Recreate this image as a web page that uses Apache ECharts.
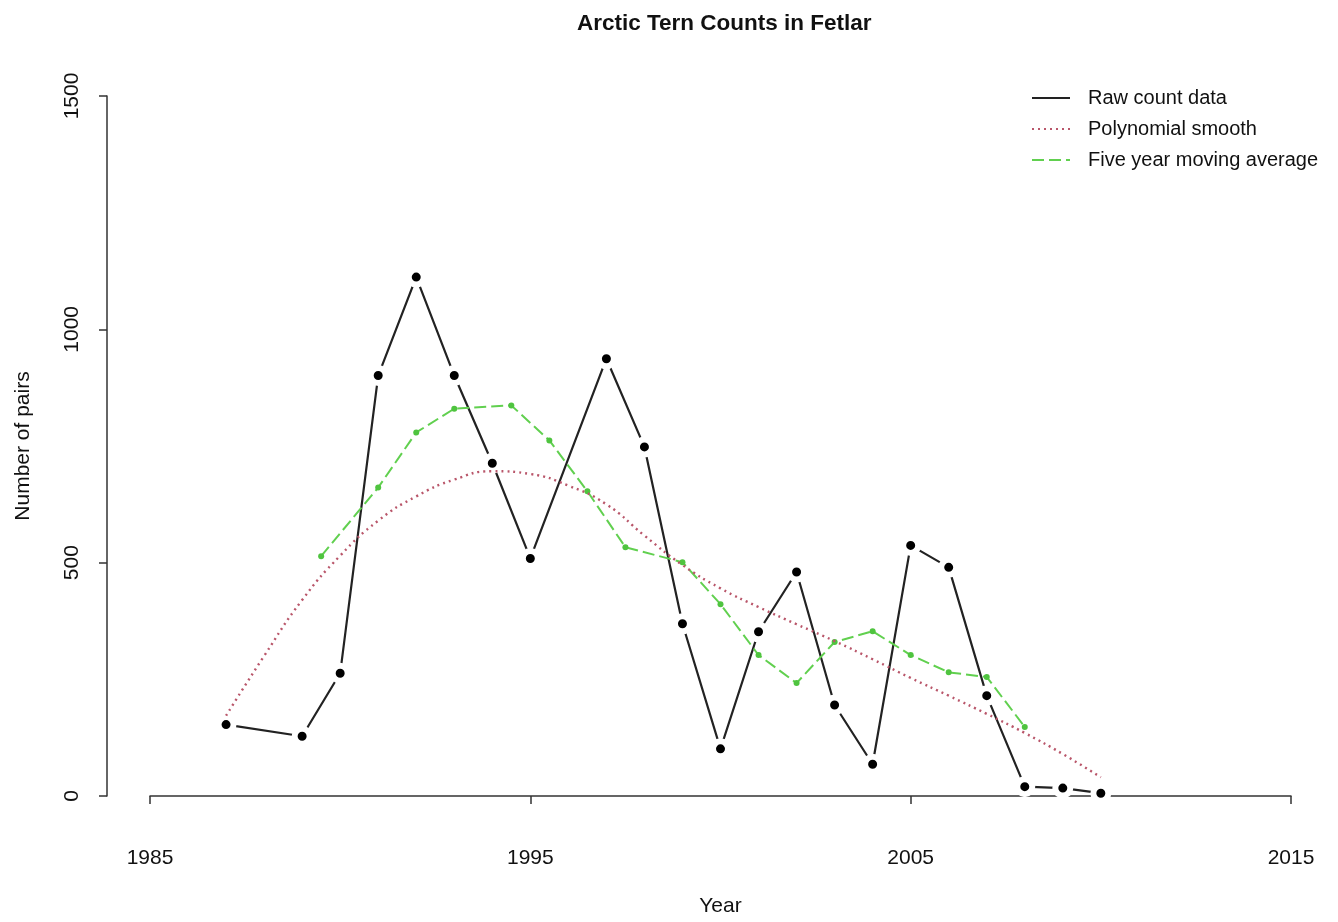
<!DOCTYPE html>
<html>
<head>
<meta charset="utf-8">
<script src="https://cdn.jsdelivr.net/npm/echarts@6/dist/echarts.min.js"></script>
<style>html,body{margin:0;padding:0;background:#fff}#chart{width:1338px;height:922px}</style>
</head>
<body>
<div id="chart"></div>
<script>
// Raw counts
const rawYears  = [1987, 1989, 1990, 1991, 1992, 1993, 1994, 1995, 1997, 1998, 1999, 2000, 2001, 2002, 2003, 2004, 2005, 2006, 2007, 2008, 2009, 2010];
const rawValues = [153, 128, 263, 901, 1112, 901, 713, 509, 937, 748, 369, 101, 352, 480, 195, 68, 537, 490, 215, 20, 17, 6];
// Polynomial smooth
const polyYears  = [1987, 1988, 1989, 1990, 1991, 1992, 1993, 1994, 1995, 1996, 1997, 1998, 1999, 2000, 2001, 2002, 2003, 2004, 2005, 2006, 2007, 2008, 2009, 2010];
const polyValues = [172, 300, 420, 515, 590, 642, 678, 696, 690, 665, 625, 558, 495, 445, 405, 368, 332, 293, 253, 215, 176, 135, 90, 40];
// Five year moving average
const maYears  = [1989.5, 1991, 1992, 1993, 1994.5, 1995.5, 1996.5, 1997.5, 1999, 2000, 2001, 2002, 2003, 2004, 2005, 2006, 2007, 2008];
const maValues = [514, 661, 779, 830, 837, 762, 653, 533, 501, 411, 302, 242, 330, 353, 302, 265, 255, 148];
// Axis ticks
const xTicks = [1985, 1995, 2005, 2015];
const yTicks = [0, 500, 1000, 1500];

const seriesNames = ['Raw count data', 'Polynomial smooth', 'Five year moving average'];
const zip = (xs, ys) => xs.map((x, i) => [x, ys[i]]);

const FONT = "'Liberation Sans', Arial, sans-serif";
const chart = echarts.init(document.getElementById('chart'), null, {renderer: 'canvas'});
chart.setOption({
  animation: false,
  backgroundColor: '#fff',
  textStyle: {fontFamily: FONT},
  title: {
    text: 'Arctic Tern Counts in Fetlar',
    left: 572, top: 7,
    textStyle: {fontFamily: FONT, fontWeight: 'bold', fontSize: 22.5, color: '#111'}
  },
  legend: {
    orient: 'vertical',
    left: 1026, top: 83,
    itemWidth: 38, itemHeight: 14, itemGap: 11,
    data: seriesNames,
    itemStyle: {opacity: 0},
    textStyle: {fontFamily: FONT, fontSize: 20, color: '#111', padding: [0, 0, 0, 13]}
  },
  grid: {left: 150, right: 47, top: 96, bottom: 126, containLabel: false},
  xAxis: {
    type: 'value', min: xTicks[0], max: xTicks[xTicks.length - 1], interval: xTicks[1] - xTicks[0],
    offset: 30,
    name: 'Year', nameLocation: 'middle', nameGap: 70,
    nameTextStyle: {fontFamily: FONT, fontSize: 21, color: '#111'},
    axisLine: {show: true, lineStyle: {color: '#333', width: 1.5}},
    axisTick: {show: true, inside: false, length: 8, lineStyle: {color: '#333', width: 1.5}},
    axisLabel: {fontFamily: FONT, fontSize: 21, color: '#111', margin: 22, formatter: v => String(v)},
    splitLine: {show: false}
  },
  yAxis: {
    type: 'value', min: yTicks[0], max: yTicks[yTicks.length - 1], interval: yTicks[1] - yTicks[0],
    offset: 43,
    name: 'Number of pairs', nameLocation: 'middle', nameGap: 73, nameRotate: 90,
    nameTextStyle: {fontFamily: FONT, fontSize: 21, color: '#111'},
    axisLine: {show: true, lineStyle: {color: '#333', width: 1.5}},
    axisTick: {show: true, inside: false, length: 8, lineStyle: {color: '#333', width: 1.5}},
    axisLabel: {fontFamily: FONT, fontSize: 21, color: '#111', rotate: 90, margin: 24, formatter: v => String(v)},
    splitLine: {show: false}
  },
  series: [
    {
      name: seriesNames[0], type: 'line', z: 1,
      data: zip(rawYears, rawValues),
      symbol: 'circle', symbolSize: 15,
      itemStyle: {color: '#000', borderColor: '#fff', borderWidth: 6},
      lineStyle: {color: '#222', width: 2.2}
    },
    {
      name: seriesNames[1], type: 'line', z: 3, smooth: true,
      data: zip(polyYears, polyValues),
      symbol: 'none',
      itemStyle: {color: '#DF536B'},
      lineStyle: {color: '#B9566A', width: 2.4, type: [2, 4]}
    },
    {
      name: seriesNames[2], type: 'line', z: 2,
      data: zip(maYears, maValues),
      symbol: 'circle', symbolSize: 6,
      itemStyle: {color: '#4FC43F'},
      lineStyle: {color: '#61D04F', width: 2, type: [12, 5]}
    }
  ]
});
</script>
</body>
</html>
